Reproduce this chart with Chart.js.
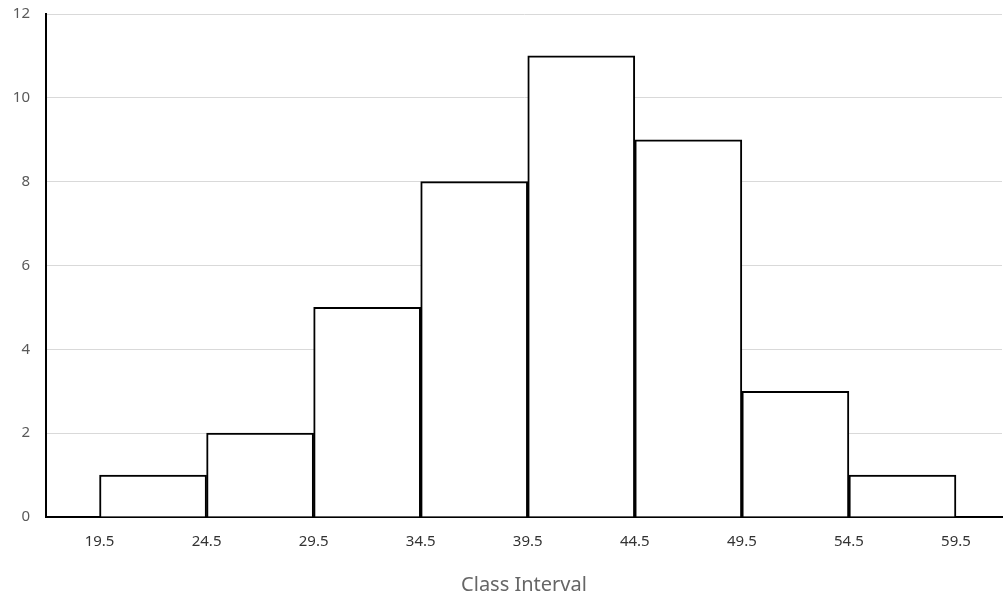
<!DOCTYPE html>
<html>
<head>
<meta charset="utf-8">
<script src="https://cdn.jsdelivr.net/npm/chart.js@4/dist/chart.umd.min.js"></script>
<style>
  html, body { margin: 0; padding: 0; background: #fff; }
  #wrap { width: 1003px; height: 597px; }
</style>
</head>
<body>
<div id="wrap"><canvas id="histChart"></canvas></div>
<script>
// class boundaries and frequencies
const classEdges = [19.5, 24.5, 29.5, 34.5, 39.5, 44.5, 49.5, 54.5, 59.5];
const frequencies = [1, 2, 5, 8, 11, 9, 3, 1];
const yTicks = [0, 2, 4, 6, 8, 10, 12];

const midpoints = frequencies.map(function (f, i) {
  return (classEdges[i] + classEdges[i + 1]) / 2;
});

const ctx = document.getElementById("histChart").getContext("2d");

new Chart(ctx, {
  type: "bar",
  data: {
    datasets: [
      {
        label: "Frequency",
        data: midpoints.map(function (m, i) { return { x: m, y: frequencies[i] }; }),
        backgroundColor: "#ffffff",
        borderColor: "#000000",
        borderWidth: 2,
        barPercentage: 1,
        categoryPercentage: 1,
        borderSkipped: "bottom",
      },
    ],
  },
  options: {
    responsive: true,
    maintainAspectRatio: false,
    animation: false,
    layout: { padding: { top: 14, right: 1, left: 0, bottom: 0 } },
    plugins: {
      legend: { display: false },
      tooltip: { enabled: false },
    },
    scales: {
      x: {
        type: "linear",
        offset: false,
        min: 17,
        max: 61.65,
        afterBuildTicks: function (scale) {
          scale.ticks = classEdges.map(function (v) { return { value: v }; });
        },
        afterFit: function (scale) {
          scale.height = 80;
          scale.paddingLeft = 0;
          scale.paddingRight = 0;
        },
        grid: { display: false, drawTicks: false },
        border: { display: true, color: "#000000", width: 2 },
        ticks: {
          color: "#333333",
          font: { family: "Noto Sans", size: 15 },
          padding: 16,
          maxRotation: 0,
          autoSkip: false,
          callback: function (value) { return value.toFixed(1); },
        },
        title: {
          display: true,
          text: "Class Interval",
          color: "#666666",
          font: { family: "Noto Sans", size: 20 },
          padding: { top: 2, bottom: 0 },
        },
      },
      y: {
        min: 0,
        max: 12,
        afterBuildTicks: function (scale) {
          scale.ticks = yTicks.map(function (v) { return { value: v }; });
        },
        afterFit: function (scale) {
          scale.width = 46;
          scale.paddingTop = 0;
          scale.paddingBottom = 0;
        },
        grid: { color: "#d9d9d9", lineWidth: 1, drawTicks: false },
        border: { display: true, color: "#000000", width: 2 },
        ticks: {
          color: "#595959",
          font: { family: "Noto Sans", size: 15 },
          padding: 16,
        },
      },
    },
  },
});
</script>
</body>
</html>
